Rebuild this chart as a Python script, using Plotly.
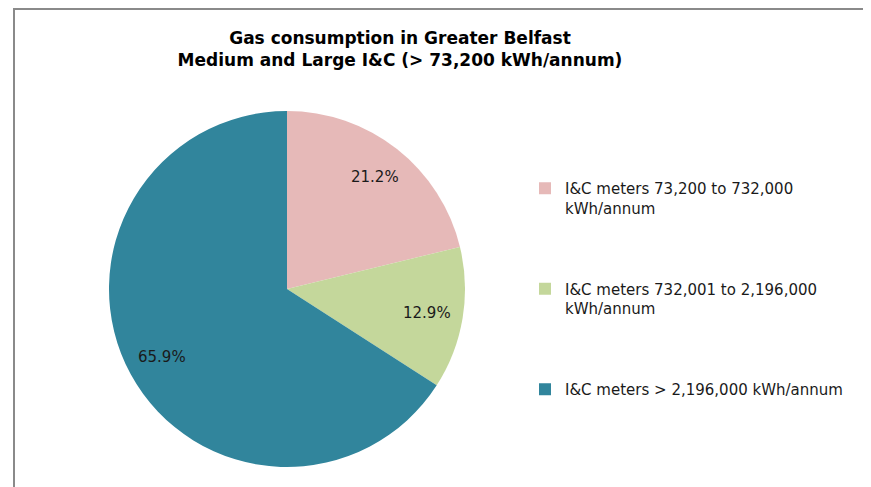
import math
import plotly.graph_objects as go

labels = [
    "I&C meters 73,200 to 732,000<br>kWh/annum<br> <br> <br> ",
    "I&C meters 732,001 to 2,196,000<br>kWh/annum<br> <br> <br> ",
    "I&C meters > 2,196,000 kWh/annum",
]
shares = [21.2, 12.9, 65.9]
colors = ["#E6B9B8", "#C4D79B", "#31859C"]

W, H = 871, 487
OFF = 8  # page body margin


def px(x):
    return (x - OFF) / W


def py(y):
    return 1 - (y - OFF) / H


# pie placement (screen pixels)
cx, cy, R = 287, 289, 178

fig = go.Figure(
    go.Pie(
        labels=labels,
        values=shares,
        sort=False,
        direction="clockwise",
        rotation=0,
        marker=dict(colors=colors, line=dict(color="white", width=0)),
        textinfo="none",
        domain=dict(x=[px(cx - R), px(cx + R)], y=[py(cy + R), py(cy - R)]),
        hoverinfo="label+percent",
    )
)

# percentage labels placed along each slice bisector
total = sum(shares)
start = 0.0
for v in shares:
    mid = (start + v / 2) / total * 2 * math.pi
    start += v
    fig.add_annotation(
        x=px(cx + 0.8 * R * math.sin(mid)),
        y=py(cy - 0.8 * R * math.cos(mid)),
        xref="paper", yref="paper",
        xanchor="center", yanchor="middle",
        text=f"{v:.1f}%",
        showarrow=False,
        font=dict(family="DejaVu Sans", size=15, color="#1a1a1a"),
    )

# chart area frame (only top and left edges are visible in the crop)
fig.add_shape(
    type="rect", xref="paper", yref="paper",
    x0=px(14), y0=-0.1, x1=1.1, y1=1 - 1 / H,
    line=dict(color="#8a8a8a", width=2),
)

fig.update_layout(
    width=W,
    height=H,
    margin=dict(l=0, r=0, t=0, b=0),
    paper_bgcolor="white",
    plot_bgcolor="white",
    font=dict(family="DejaVu Sans", size=15, color="#1a1a1a"),
    title=dict(
        text="<b>Gas consumption in Greater Belfast<br>Medium and Large I&C (> 73,200 kWh/annum)</b>",
        x=px(400),
        xanchor="center",
        y=1 - 36 / H,
        yanchor="top",
        font=dict(family="DejaVu Sans", size=17, color="black"),
    ),
    legend=dict(
        x=517 / W,
        y=1 - 164 / H,
        xanchor="left",
        yanchor="top",
        valign="top",
        font=dict(family="DejaVu Sans", size=15, color="#1a1a1a"),
        bgcolor="rgba(0,0,0,0)",
    ),
)

fig.write_html("out.html")
